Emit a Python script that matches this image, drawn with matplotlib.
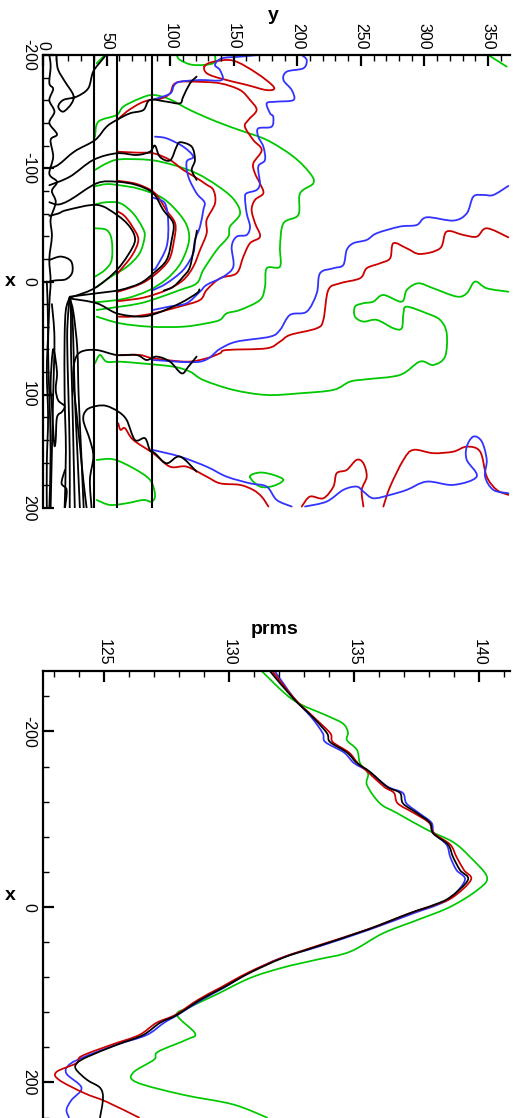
import matplotlib
matplotlib.use("Agg")
import matplotlib.pyplot as plt
from matplotlib.ticker import MultipleLocator
from matplotlib.path import Path
from matplotlib.patches import PathPatch

plt.rcParams['font.family'] = ['Liberation Sans', 'DejaVu Sans']
plt.rcParams['axes.unicode_minus'] = False

GREEN = '#00c800'
RED = '#cc0000'
BLUE = '#3333ff'
BLACK = '#000000'

# ---------------- top panel: contour lines, (y, x) pairs ----------------
VLINE_Y = [40.1, 58.2, 85.7]

G_TOPRIGHT = [(350.2, -200), (364.7, -189.7)]
G_TOPLEFT = [(42.2, -192.7), (48.8, -200)]
G_TOPSMALL = [(105.2, -200), (107.8, -195.6), (118.3, -191.2), (134.0, -192.7), (135.3, -200)]
G_OUTER = [(40.9, -127.9), (43.5, -141.1), (57.9, -147), (63.2, -154.4), (76.3, -161.7), (86.7, -164.7),
           (99.9, -160.8), (115.6, -151.4), (136.6, -141.1), (155, -133.5), (176, -125), (196.9, -110.3),
           (210, -95.6), (212.6, -86.7), (202.2, -77.9), (200.8, -58.8), (189.1, -51.4), (186.4, -30.8),
           (186.4, -13.2), (176, -11.7), (174.6, 4.5), (170.7, 16.3), (155, 25.1), (144.5, 28.1),
           (139.2, 33.9), (128.7, 36.9), (110.3, 39.9), (84.1, 39.9), (60.5, 36.9), (42.2, 31)]
G_MID = [(40.9, -98.5), (50, -104.3), (60.5, -107.9), (84.1, -107.3), (102.5, -102.9), (120.8, -95.5),
         (136.6, -85), (149.7, -73), (155, -60), (147, -48.4), (145.7, -39.6), (136.6, -27.8),
         (126.1, -10.2), (120.9, 1.6), (107.7, 7.5), (89.4, 14.9), (76.3, 19.3), (60.5, 22.2), (42.2, 25.1)]
G_ARC2 = [(40.5, -84), (50, -86), (60, -85), (75, -82), (92, -75), (103, -65), (112, -52), (115, -40),
          (113, -28), (107, -14), (97, -2), (83, 8), (65, 15), (45, 18), (40.5, 18)]
G_ARC1 = [(40.5, -68), (50, -70), (61, -69), (71, -60), (78, -48), (80, -40), (76, -25), (66, -13),
          (53, -4), (42, 5)]
G_INNER = [(40.5, -47), (50, -45.5), (54, -36.7), (54, -19), (48.7, -10.2), (40.9, -4.3)]
G_RIGHT = [(40.9, 72.2), (44.8, 64.9), (50.0, 70.8), (60.5, 70.8), (76.3, 72.2), (102.5, 75.2),
           (115.6, 79.6), (126.1, 87), (149.7, 95.7), (176, 100.2), (202.2, 98.7), (228.4, 95.7),
           (241.5, 88.4), (254.6, 86.3), (280.8, 82.5), (296.5, 70.7), (307, 73.7), (316.2, 66.3),
           (317.5, 45.7), (312.3, 33.9), (301.8, 28.1), (286.1, 22.2), (283.5, 28.1), (282.1, 41.3),
           (275.6, 41.3), (262.5, 33.9), (252, 35.4), (245.4, 31), (245.4, 22.2), (252, 19.2),
           (259.8, 17.8), (267.7, 11.9), (282.1, 17.8), (286.1, 7.5), (295.2, 1.6), (307, 6.0),
           (325.4, 13.3), (333.3, 10.4), (339.8, 0.1), (349, 6), (366, 9)]
G_SMALLLOOP = [(162.8, 172.3), (170.7, 168.7), (181.2, 170.8), (189, 175.2), (181.2, 180.5),
               (170.7, 181.1), (162.8, 172.3)]
G_BOTLOOP = [(42.2, 157.6), (55.3, 157), (71.1, 164.9), (84.2, 175.2), (88.1, 188.5), (85.5, 194.4),
             (78.9, 192.9), (65.8, 195.8), (52.7, 197.3), (42.2, 192.9)]

R_TOPLOOP = [(127, -190), (134, -194), (149.7, -195), (168, -184), (181.7, -171.5), (176, -169),
             (160.2, -173.6), (139.2, -179.4), (128.8, -183.9), (127, -190)]
R_UPPER = [(58, -142), (65.8, -150), (76.3, -157.3), (84.1, -160.3), (93.3, -161.7), (99.9, -166.1),
           (102.5, -173.5), (107.7, -176.4), (120.8, -176.4), (139.2, -175), (154.9, -169.1),
           (162.8, -160.3), (168, -151.4), (161.5, -142.6), (158.8, -136.7), (165.4, -124.9),
           (172, -116.1), (165.4, -104.3), (166.7, -95.5), (170.6, -86.7), (173.3, -77.9), (166.7, -72),
           (164.1, -63.2), (166.8, -51.4), (170.7, -39.6), (162.8, -33.8), (157.6, -22), (152.3, -7.3),
           (139.2, -2.8), (128.7, 7.5), (123.5, 16.3), (107.8, 22), (86.8, 28.1), (70, 31), (58.5, 31)]
R_ARC3 = [(58.5, -114.6), (73.6, -113.8), (86.8, -113.2), (99.9, -107.3), (110.3, -98.5), (120, -92),
          (128, -86), (134, -80.8), (135.3, -69), (128.7, -54.3), (128.7, -42.5), (123.5, -27.8),
          (118.2, -13.1), (110.3, -1.3), (97.2, 7.5), (80, 14), (62, 17), (58.5, 17)]
R_ARC2 = [(58.5, -89), (74, -86), (88, -78), (97, -63), (104, -51), (103, -36), (99, -19), (88, -6),
          (77, 2), (62, 8), (58.5, 9)]
R_ARC1 = [(58.5, -62), (64, -58), (70, -49), (75, -37), (70, -23), (60, -9), (58.5, -7)]
R_LONG = [(60.5, 64.9), (76.3, 64.9), (86.7, 67.8), (113, 70.8), (128.7, 67.8), (139.2, 63.4),
          (144.4, 60.5), (175.9, 59.0), (186.4, 53.1), (194.3, 47.2), (215.3, 41.3), (220.5, 33.9),
          (224.4, 7.5), (233.6, 1.6), (249.4, -2.9), (254.6, -11.7), (265.1, -16.1), (273, -20.5),
          (275.6, -33.8), (286.1, -29.3), (296.5, -24.3), (312.3, -29.3), (317.5, -44.1),
          (330.6, -41.1), (341.1, -39.6), (349, -47), (366, -39)]
R_LOW = [(59.2, 125.2), (61, 131), (64.5, 129.6), (71, 139.9), (86.7, 151.7), (99.9, 163.5),
         (113, 163.5), (128.7, 172.3), (139.2, 178.2), (154.9, 179.6), (165.4, 184.1), (172, 190),
         (177.3, 198.7)]
R_BOT1 = [(203.5, 198.7), (210, 189.9), (220.5, 191.4), (228.4, 181.1), (231, 169.3), (238.9, 166.4),
          (246.7, 157.5), (252, 160.5), (254.6, 172.3), (250.7, 184), (252, 198.7)]
R_BOT2 = [(267.7, 198.7), (273, 181.1), (283.5, 157.5), (291.3, 148.7), (307, 151.6), (322.8, 150.2),
          (333.3, 145.8), (343.8, 150.2), (349, 172.3), (356.9, 184), (366, 188.4)]

B_TOP = [(88, -161), (100, -166), (103, -173), (107.7, -176.4), (123.5, -177.9), (140.5, -177.9),
         (139.2, -186.7), (135.3, -191.2), (140.5, -197), (154.9, -198.5), (169.4, -200)]
B_UPPER = [(203.5, -200), (207.4, -195.6), (204.8, -188.3), (191.7, -185.3), (189.1, -178),
           (195.6, -169.1), (197, -160.3), (183.8, -158.8), (176, -157.4), (178.6, -148.5),
           (181.1, -145.5), (179.8, -136.7), (169.3, -135.2), (169.3, -127.9), (173.3, -119.1),
           (174.6, -107.3), (169.3, -101.4), (170.6, -86.7), (168, -80.8), (160.1, -77.9),
           (158.9, -73.5), (160.2, -60.2), (162.8, -48.5), (160.2, -41.1), (152.3, -39.6),
           (148.4, -30.8), (149.7, -13.2), (141.9, -4.3), (128.7, 3.0), (123.5, 8.9), (113, 19.2),
           (100, 22), (86.8, 25.1)]
B_ARC3 = [(88.1, -127.9), (97.2, -126.4), (110.3, -119.1), (118.2, -110.2), (113, -105.8),
          (114.3, -92.6), (120.8, -77.9), (127, -70), (126.1, -63.1), (123.5, -48.4), (119.5, -36.7),
          (118.2, -24.9), (110.3, -10.2), (97.2, 1.6), (86.8, 7.5)]
B_ARC2 = [(86.5, -74), (95.9, -69), (98.5, -51.4), (97.2, -30.8), (89.4, -13.1), (86.8, -10.2)]
B_LONG = [(86.7, 69.3), (123.5, 70.8), (139.2, 59.5), (152.3, 53.1), (178.6, 48.7), (186.4, 42.8),
          (194.3, 29.5), (207.4, 26.6), (215.3, 10.4), (217.9, -7.3), (228.4, -11.7), (236.2, -14.6),
          (238.9, -27.9), (244.1, -33.8), (254.6, -36.7), (262.5, -42.6), (280.8, -48.5),
          (293.9, -49.9), (301.8, -56.7), (322.8, -53.8), (333.3, -60.2), (338.5, -75.0),
          (346.4, -76.4), (354.2, -76.4), (366.0, -84.4)]
B_LOW = [(86.7, 148.8), (107.7, 154.6), (128.7, 163.5), (144.4, 172.3), (162.8, 178.2), (175.9, 181.1),
         (183.8, 192.9), (195.6, 198.7)]
B_BOT = [(206.1, 198.7), (223.1, 194.3), (236.2, 184), (246.7, 181.1), (252, 185.5), (259.8, 191.4),
         (273, 188.4), (286.1, 184), (301.8, 176.7), (322.8, 179.6), (341.1, 172.3), (333.3, 157.5),
         (333.3, 145.8), (338.5, 136.9), (345.1, 141.3), (349, 157.5), (347.7, 172.3), (354.2, 184),
         (366, 187)]

K_TOPLOOP = [(10.7, -200), (10.7, -195.6), (12, -186.7), (17.3, -176.4), (23.8, -164.7), (22.5, -157.3),
             (16, -150), (12, -154.4), (16, -160.3), (26.4, -163.2), (35.6, -170.6), (39.5, -185.3),
             (47.4, -197), (49.3, -200)]
K_ARC4 = [(5, -100), (12, -103), (25, -115), (40.9, -124.9), (50, -136.7), (57.9, -142.6),
          (68.4, -148.5), (78.9, -151.4), (84.1, -160.3), (97.2, -158.8), (107.7, -157.3),
          (110.3, -163.2), (115.6, -175), (120.8, -180.9)]
K_ARC3 = [(5, -85), (21.2, -92.6), (39.5, -107.3), (57.9, -113.2), (73.6, -111.7), (84.1, -114.6),
          (88, -120), (92, -110), (100, -107), (105, -119), (108, -123), (117, -119), (119.5, -107.3),
          (117, -98.5), (120.8, -89.7)]
K_ARC2 = [(5, -70), (12, -68), (21.2, -72), (42.2, -86.7), (57.9, -88.1), (73.6, -85.2), (86.7, -77.9),
          (94.6, -63.1), (102.5, -51.4), (101.2, -36.7), (97.2, -19), (86.8, -7.2), (76.3, 1.6),
          (60.5, 7.5), (42.2, 10.4), (21.2, 13.4)]
K_ARC1 = [(5, -58), (12, -60), (18.9, -63.1), (42.5, -67.6), (58.2, -58.7), (68.4, -48.1),
          (72.4, -36.6), (66.9, -23.4), (56.6, -8.4), (40.9, 5.7), (25.2, 12.8), (21, 14)]
K_PIECE = [(121, -45), (119.5, -35), (115.6, -13), (110.3, -4.3), (102.5, 4.6), (95, 8)]
K_FANLOW = [(21, 15), (42.2, 19.2), (58, 28.1), (76.3, 31), (89.4, 28.1), (107.8, 19.2), (120.9, 10.4),
            (123, 7)]
K_JAG1 = [(34.3, 200), (31.7, 175.2), (29.1, 145.8), (26.4, 116.4), (23.8, 86.9), (25, 70), (30, 62),
          (42.2, 60.5), (57.9, 64.9), (73.6, 64.9), (81.5, 69.3), (89.4, 66.3), (99.9, 70.8),
          (109, 81.1), (114.3, 75.2), (120.8, 66.3)]
K_JAG2 = [(38.2, 200), (36.9, 175.2), (39.6, 154.6), (36.9, 139.9), (31.7, 122.3), (34.3, 113.4),
          (42.2, 109.9), (50, 109.9), (59.2, 114.9), (65.8, 122.3), (72.3, 139.9), (80.2, 138.4),
          (84.1, 148.8), (88.1, 151.7), (97.2, 160.5), (107.7, 154.6), (120.8, 167.9)]
K_BUNDLE1 = [(21, 14), (18, 25), (17, 50), (17, 100), (18, 150), (17, 200)]
K_BUNDLE2 = [(21, 14), (20, 25), (19, 50), (20, 100), (21, 150), (21, 200)]
K_BUNDLE3 = [(21, 14), (22, 30), (22, 60), (23, 100), (24, 150), (25, 200)]
K_BUNDLE4 = [(21, 14), (23, 30), (24, 60), (25, 100), (27, 150), (29, 200)]
K_BUNDLE5 = [(21, 14), (24, 28), (27, 60), (28, 100), (30, 150), (32, 200)]
K_LEFTLOOP = [(8, 60), (11, 80), (10, 95), (12, 105), (17, 110), (15, 115), (11, 120), (10, 140),
              (9, 145), (8, 130), (7, 110), (6, 90), (8, 60)]
K_SMALL = [(17.3, 166.4), (14.6, 178.2), (18.6, 184.1), (17.3, 200)]
K_BOX = [(5, -19), (14, -22), (22, -18), (23, -8), (18, -2), (10, -1), (5, 0)]
K_EDGE1 = [(5, -200), (6, -190), (5, -175), (8, -170), (5, -160), (9, -150), (5, -140), (11, -130),
           (6, -125), (8, -110), (5, -95), (11, -88), (7, -80), (10, -70), (6, -55), (7, -40), (5, -20),
           (6, 0), (5, 20), (4, 60), (5, 100), (6, 150), (5, 200)]
K_EDGE2 = [(3, 0), (4, 40), (3, 80), (4, 120), (3, 160), (3, 200)]
K_EDGE3 = [(7, 20), (9, 50), (8, 100), (7, 150), (6, 200)]

TOP_GREEN = [G_TOPRIGHT, G_TOPLEFT, G_TOPSMALL, G_OUTER, G_MID, G_ARC2, G_ARC1, G_INNER, G_RIGHT,
             G_SMALLLOOP, G_BOTLOOP]
TOP_RED = [R_TOPLOOP, R_UPPER, R_ARC3, R_ARC2, R_ARC1, R_LONG, R_LOW, R_BOT1, R_BOT2]
TOP_BLUE = [B_TOP, B_UPPER, B_ARC3, B_ARC2, B_LONG, B_LOW, B_BOT]
TOP_BLACK = [K_TOPLOOP, K_ARC4, K_ARC3, K_ARC2, K_ARC1, K_PIECE, K_FANLOW, K_JAG1, K_JAG2,
             K_BUNDLE1, K_BUNDLE2, K_BUNDLE3, K_BUNDLE4, K_BUNDLE5, K_LEFTLOOP, K_SMALL, K_BOX,
             K_EDGE1, K_EDGE2, K_EDGE3]

# ---------------- bottom panel: prms profiles ----------------
X_BLACK = [-270, -238, -216, -198, -188, -176, -164, -154, -137, -130, -118, -107, -96, -84, -71, -57,
           -42, -31, -11, -2, 7, 26, 45, 58, 75, 92, 106, 123, 132, 146, 157, 171, 178, 185, 197, 206,
           218, 240]
P_BLACK = [131.6, 132.56, 133.36, 133.92, 134.04, 134.72, 135.12, 135.64, 136.32, 136.84, 136.96, 137.52,
           138.04, 138.16, 138.76, 138.96, 139.24, 139.56, 138.84, 138.16, 137.24, 135.52, 133.52,
           132.16, 130.84, 129.76, 128.84, 127.92, 127.24, 126.56, 125.52, 124.32, 123.92, 123.88,
           124.32, 124.84, 124.96, 124.84]
X_BLUE = [-270, -238, -216, -198, -188, -176, -164, -154, -137, -130, -118, -107, -96, -84, -71, -57,
          -42, -31, -11, -2, 7, 26, 45, 58, 75, 92, 106, 123, 132, 146, 157, 171, 180, 190, 206, 220,
          231, 240]
P_BLUE = [131.8, 132.6, 133.3, 133.75, 133.85, 134.6, 135.0, 135.6, 136.35, 136.95, 137.1, 137.6, 138.1,
          138.2, 138.7, 138.85, 139.1, 139.44, 138.9, 138.3, 137.4, 135.6, 133.6, 132.1, 130.8, 129.8,
          128.9, 127.95, 127.4, 126.7, 125.5, 124.2, 123.6, 123.5, 124.1, 123.7, 123.5, 123.6]
X_RED = [-270, -238, -216, -198, -188, -176, -164, -154, -137, -130, -118, -107, -96, -84, -71, -57,
         -42, -31, -11, -2, 7, 26, 45, 58, 75, 92, 106, 123, 132, 146, 157, 170, 178, 188, 197, 212,
         222, 240]
P_RED = [131.7, 132.6, 133.4, 134.05, 134.15, 134.8, 135.15, 135.55, 136.2, 136.6, 136.75, 137.4, 138.0,
         138.2, 138.85, 139.1, 139.4, 139.68, 138.95, 138.2, 137.25, 135.5, 133.45, 132.1, 130.75,
         129.65, 128.75, 127.85, 127.1, 126.4, 125.3, 124.1, 123.9, 123.1, 123.2, 124.2, 125.1, 126.4]
X_GREEN = [-269, -236, -218, -209, -199, -190, -179, -164, -152, -139, -118, -107, -88, -74, -57, -34,
           -19, 0, 15, 30, 51, 60, 69, 81, 100, 114, 123, 144, 151, 165, 174, 189, 200, 214, 225, 240]
P_GREEN = [131.3, 132.56, 133.92, 134.56, 134.76, 134.72, 135.12, 135.24, 135.56, 135.52, 136.04,
           136.72, 137.92, 138.96, 139.64, 140.32, 139.92, 138.84, 137.52, 136.16, 134.84, 133.52,
           132.16, 130.84, 129.48, 128.44, 127.92, 128.64, 128.32, 127.16, 127.0, 126.16, 126.32,
           128.16, 130.16, 131.52]

W, H = 513, 1118
fig = plt.figure(figsize=(W / 100, H / 100), dpi=100)


def smooth_line(ax, hs, vs, color, lw):
    """Draw the polyline through the data points as a smooth (Catmull-Rom) curve."""
    pts = list(zip(hs, vs))
    n = len(pts)
    closed = n > 3 and pts[0] == pts[-1]
    verts = [pts[0]]
    codes = [Path.MOVETO]
    for i in range(n - 1):
        p1, p2 = pts[i], pts[i + 1]
        if i > 0:
            p0 = pts[i - 1]
        else:
            p0 = pts[-2] if closed else p1
        if i + 2 < n:
            p3 = pts[i + 2]
        else:
            p3 = pts[1] if closed else p2
        c1 = (p1[0] + (p2[0] - p0[0]) / 6.0, p1[1] + (p2[1] - p0[1]) / 6.0)
        c2 = (p2[0] - (p3[0] - p1[0]) / 6.0, p2[1] - (p3[1] - p1[1]) / 6.0)
        verts += [c1, c2, p2]
        codes += [Path.CURVE4] * 3
    patch = PathPatch(Path(verts, codes), facecolor='none', edgecolor=color, lw=lw,
                      joinstyle='round', capstyle='round', transform=ax.transData)
    ax.add_patch(patch)


def style_axes(ax):
    for s in ('right', 'bottom'):
        ax.spines[s].set_visible(False)
    for s in ('top', 'left'):
        ax.spines[s].set_linewidth(1.6)
    ax.xaxis.tick_top()
    ax.tick_params(which='both', direction='in', top=True, bottom=False, left=True, right=False,
                   labelsize=11.5)
    ax.tick_params(which='major', length=8, width=1.6)
    ax.tick_params(which='minor', length=4, width=1.0)
    ax.tick_params(axis='x', which='major', labelrotation=-90, pad=4)
    ax.tick_params(axis='y', which='major', labelrotation=-90, pad=5)
    for t in ax.get_yticklabels():
        t.set_verticalalignment('center')


# top panel
ax1 = fig.add_axes([43 / W, 1 - 508 / H, 467 / W, 453 / H])
ax1.set_xlim(0, 367.3)
ax1.set_ylim(200, -200)
for yv in VLINE_Y:
    ax1.plot([yv, yv], [-200, 200], color=BLACK, lw=1.5, solid_capstyle='butt')
for group, col in ((TOP_GREEN, GREEN), (TOP_RED, RED), (TOP_BLUE, BLUE), (TOP_BLACK, BLACK)):
    for line in group:
        smooth_line(ax1, [p[0] for p in line], [p[1] for p in line], col, 1.3)
ax1.xaxis.set_major_locator(MultipleLocator(50))
ax1.xaxis.set_minor_locator(MultipleLocator(10))
ax1.yaxis.set_major_locator(MultipleLocator(100))
ax1.yaxis.set_minor_locator(MultipleLocator(20))
style_axes(ax1)

# bottom panel
ax2 = fig.add_axes([43 / W, 0, 467 / W, 447 / H])
ax2.set_xlim(122.56, 141.24)
ax2.set_ylim(240.5, -268.9)
smooth_line(ax2, P_GREEN, X_GREEN, GREEN, 1.25)
smooth_line(ax2, P_BLUE, X_BLUE, BLUE, 1.25)
smooth_line(ax2, P_RED, X_RED, RED, 1.25)
smooth_line(ax2, P_BLACK, X_BLACK, BLACK, 1.25)
ax2.xaxis.set_major_locator(MultipleLocator(5))
ax2.xaxis.set_minor_locator(MultipleLocator(1))
ax2.yaxis.set_major_locator(MultipleLocator(200))
ax2.yaxis.set_minor_locator(MultipleLocator(40))
style_axes(ax2)

fig.text(273 / W, 1 - 15 / H, 'y', ha='center', va='center', fontsize=14, fontweight='bold')
fig.text(10 / W, 1 - 282 / H, 'x', ha='center', va='center', fontsize=14, fontweight='bold')
fig.text(275 / W, 1 - 630 / H, 'prms', ha='center', va='center', fontsize=14, fontweight='bold')
fig.text(10 / W, 1 - 896 / H, 'x', ha='center', va='center', fontsize=14, fontweight='bold')

fig.savefig('out.png', dpi=100)
